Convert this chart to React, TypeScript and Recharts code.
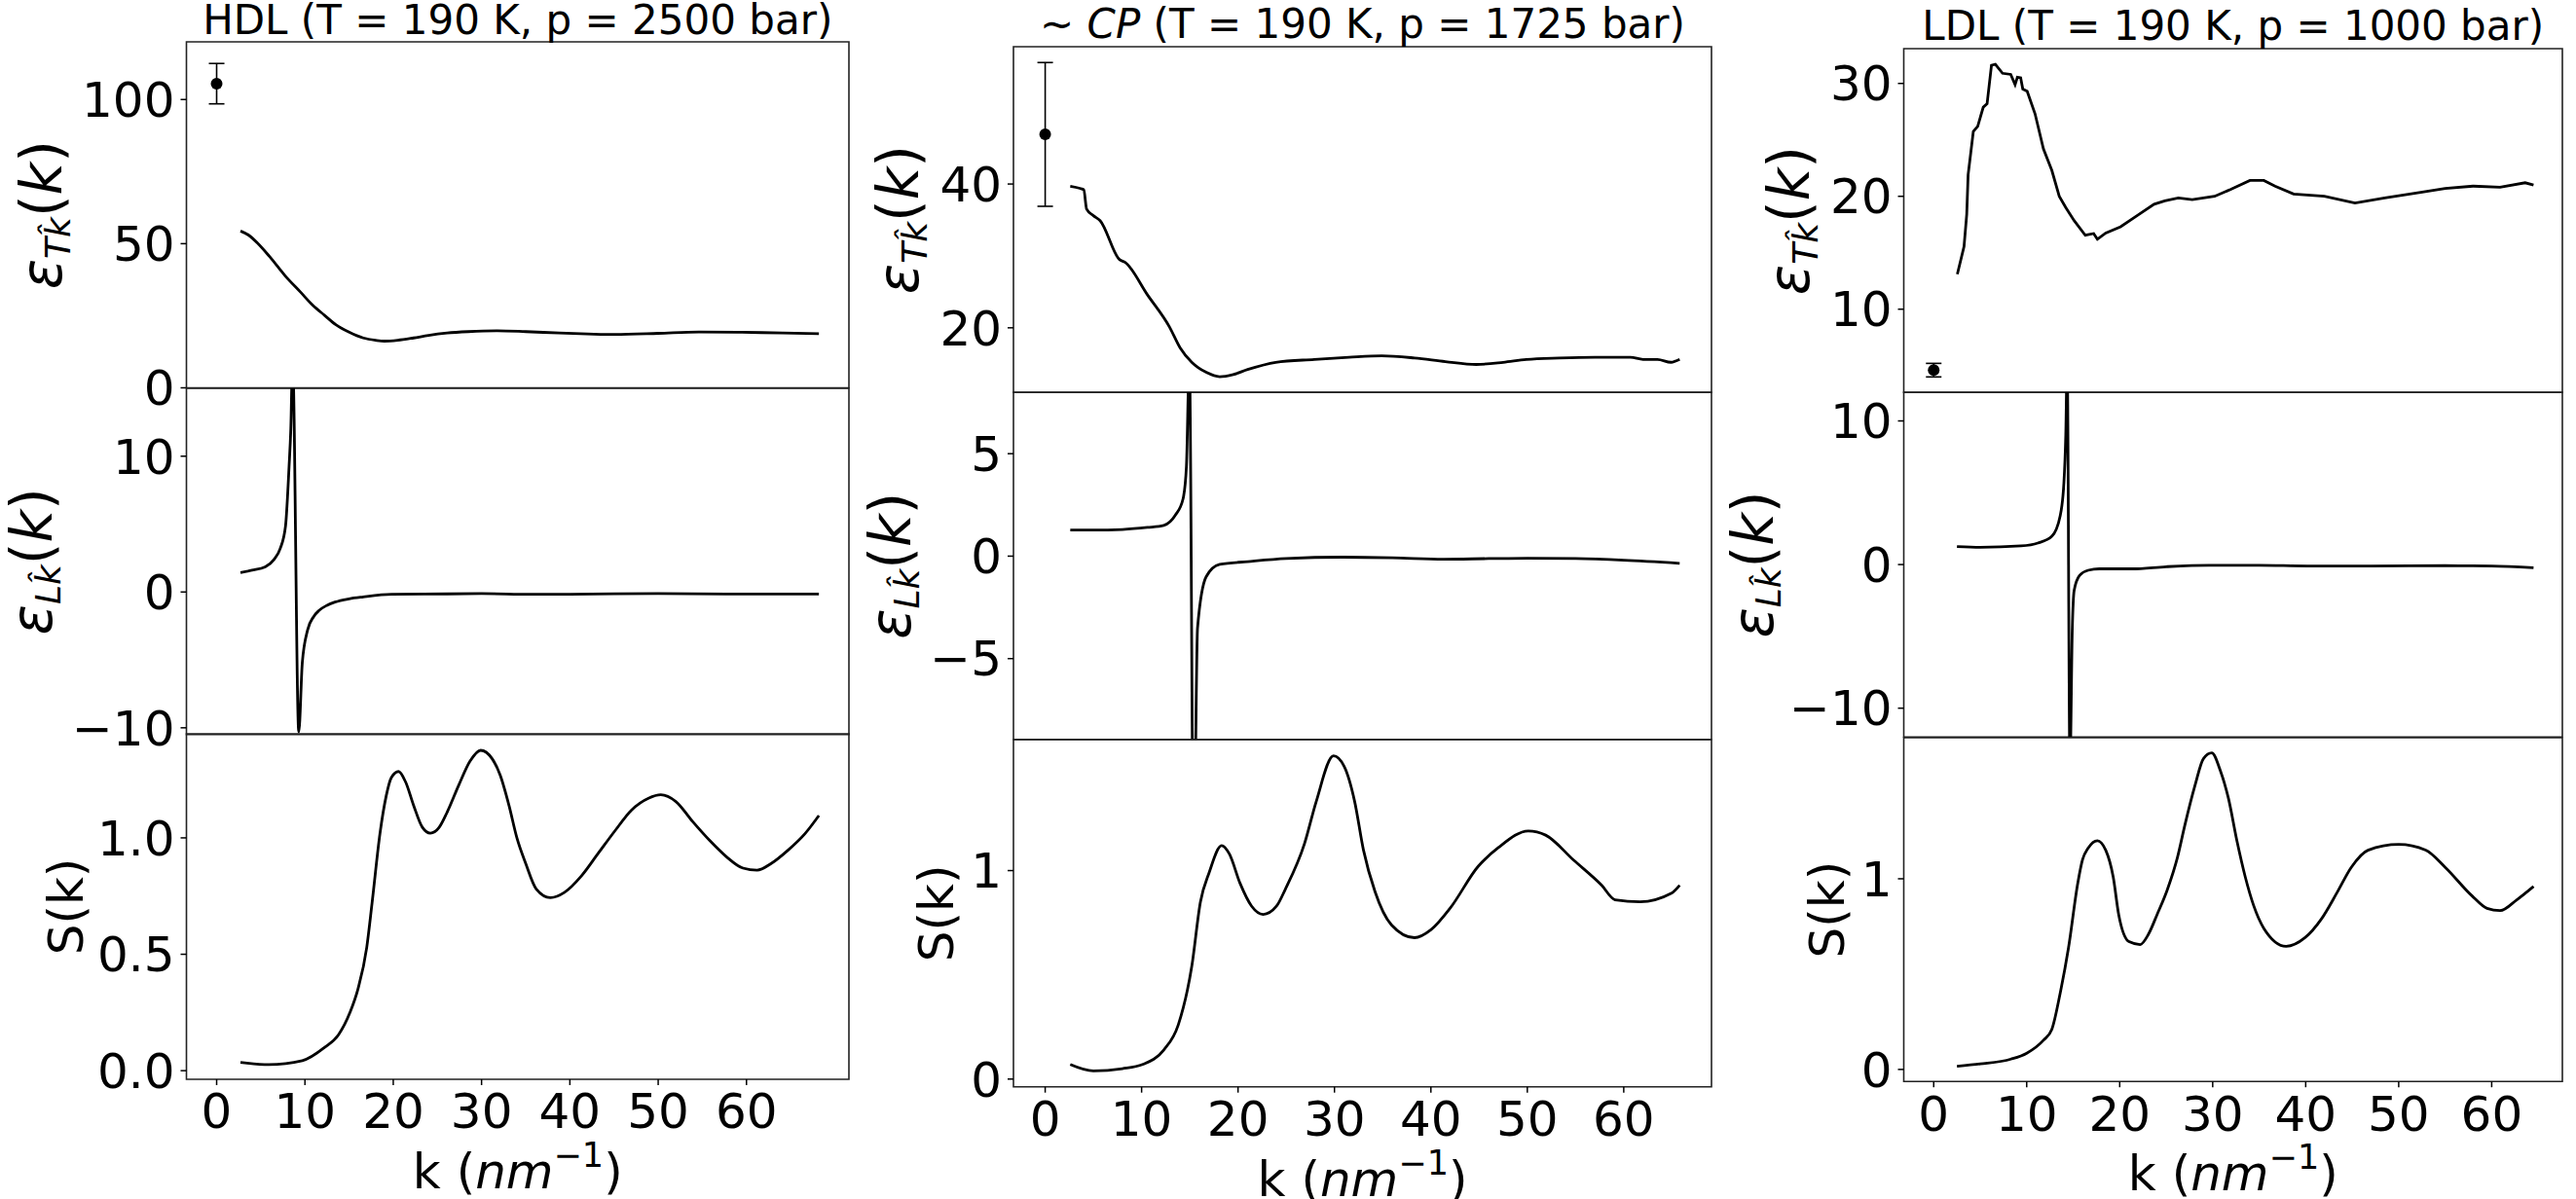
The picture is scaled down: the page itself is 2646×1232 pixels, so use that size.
import React from "react";
import { ComposedChart, Line, Scatter, ErrorBar, XAxis, YAxis, ReferenceArea } from "recharts";

const FONT = "DejaVu Sans, sans-serif";

// shared k ticks (nm^-1)
const K_TICKS = [0, 10, 20, 30, 40, 50, 60];

// ---- HDL (T = 190 K, p = 2500 bar)
const HDL_T_K = [2.7, 3.6, 4.6, 6.0, 7.8, 9.5, 10.9, 12.2, 13.5, 15.0, 16.6, 18.0, 19.0, 20.5, 22.3, 24.0, 26.1, 28.5, 31.8, 35.0, 38.8, 42.0, 45.1, 50.0, 54.6, 59.0, 64.1, 68.2];
const HDL_T = [54.4, 53.0, 50.3, 45.5, 38.7, 33.2, 28.6, 25.2, 21.9, 19.3, 17.3, 16.5, 16.2, 16.5, 17.3, 18.2, 19.0, 19.5, 19.8, 19.5, 19.0, 18.7, 18.5, 18.9, 19.4, 19.3, 19.0, 18.8];
const HDL_L_K = [2.7, 4.0, 5.5, 6.5, 7.2, 7.8, 8.2, 8.4, 8.6, 9.3, 9.7, 10.3, 11.0, 11.6, 12.5, 13.4, 15.0, 16.6, 19.8, 26.1, 30.0, 35.6, 40.0, 45.0, 50.0, 57.7, 68.2];
const HDL_L = [1.43, 1.6, 1.85, 2.4, 3.2, 4.85, 9.2, 12.0, 17.0, -10.3, -5.2, -2.8, -1.8, -1.36, -0.98, -0.74, -0.5, -0.36, -0.17, -0.14, -0.12, -0.17, -0.16, -0.13, -0.12, -0.15, -0.15];
const HDL_S_K = [2.7, 5.9, 9.7, 12.2, 13.8, 15.1, 16.0, 17.0, 17.6, 18.5, 19.2, 19.8, 20.6, 21.4, 22.3, 23.3, 24.2, 25.2, 26.1, 27.4, 28.7, 29.9, 31.2, 32.1, 33.1, 34.0, 35.0, 36.2, 37.8, 39.4, 41.3, 43.2, 45.1, 47.0, 48.9, 50.3, 52.0, 53.9, 55.8, 57.7, 59.6, 61.2, 62.8, 64.7, 66.6, 68.2];
const HDL_S = [0.036, 0.026, 0.043, 0.099, 0.154, 0.25, 0.35, 0.53, 0.72, 1.02, 1.18, 1.26, 1.285, 1.24, 1.14, 1.045, 1.02, 1.045, 1.11, 1.225, 1.33, 1.376, 1.34, 1.27, 1.14, 1.0, 0.89, 0.78, 0.743, 0.766, 0.836, 0.933, 1.03, 1.12, 1.17, 1.185, 1.156, 1.07, 0.99, 0.92, 0.87, 0.861, 0.89, 0.947, 1.017, 1.096];
const HDL_POINT = { k: 0, v: 105.5, err: 7 };

// ---- ~CP (T = 190 K, p = 1725 bar)
const CP_T_K = [2.6, 3.6, 4.0, 4.3, 5.0, 5.7, 7.7, 8.3, 10.6, 12.9, 14.0, 15.2, 16.7, 18.1, 19.5, 21.0, 23.9, 27.9, 31.5, 34.9, 38.3, 41.5, 44.7, 47.5, 49.9, 53.3, 57.0, 60.7, 62.0, 63.5, 64.9, 65.8];
const CP_T = [39.7, 39.4, 39.2, 36.5, 35.6, 34.9, 29.5, 29.1, 24.6, 20.1, 17.2, 15.2, 13.8, 13.2, 13.5, 14.2, 15.2, 15.6, 15.9, 16.1, 15.8, 15.3, 14.9, 15.2, 15.6, 15.8, 15.9, 15.9, 15.6, 15.6, 15.2, 15.6];
const CP_L_K = [2.6, 5.0, 8.0, 10.6, 12.3, 13.5, 14.3, 14.65, 14.95, 15.4, 15.8, 16.7, 18.1, 21.0, 25.0, 30.9, 36.0, 41.3, 46.0, 50.0, 55.0, 60.0, 65.8];
const CP_L = [1.27, 1.27, 1.3, 1.4, 1.5, 2.0, 2.8, 4.4, 9.5, -15.0, -3.5, -1.0, -0.4, -0.27, -0.12, -0.05, -0.08, -0.15, -0.12, -0.1, -0.12, -0.2, -0.35];
const CP_S_K = [2.6, 5.0, 8.0, 10.1, 12.3, 13.8, 15.2, 16.1, 17.0, 18.3, 19.1, 20.2, 21.4, 22.6, 24.0, 24.9, 26.9, 28.1, 29.9, 31.0, 32.1, 33.0, 34.2, 35.9, 38.3, 40.0, 42.0, 44.9, 47.0, 50.1, 51.9, 54.8, 57.7, 59.1, 61.7, 64.9, 65.8];
const CP_S = [0.07, 0.039, 0.05, 0.07, 0.14, 0.26, 0.54, 0.85, 0.99, 1.12, 1.08, 0.94, 0.83, 0.79, 0.83, 0.91, 1.13, 1.33, 1.55, 1.5, 1.33, 1.1, 0.9, 0.74, 0.678, 0.716, 0.82, 1.02, 1.11, 1.19, 1.17, 1.05, 0.93, 0.86, 0.85, 0.89, 0.93];
const CP_POINT = { k: 0, v: 46.9, err: 10 };

// ---- LDL (T = 190 K, p = 1000 bar)
const LDL_T_K = [2.54, 3.26, 3.55, 3.7, 4.26, 4.73, 5.33, 5.74, 6.21, 6.63, 7.4, 8.28, 8.75, 9.0, 9.35, 9.58, 10.05, 10.9, 11.8, 12.7, 13.5, 14.2, 15.1, 16.3, 17.2, 17.6, 18.5, 20.1, 21.9, 23.7, 24.85, 26.3, 27.8, 30.2, 31.9, 34.0, 35.5, 36.7, 38.7, 42.0, 45.3, 48.5, 52.7, 55.0, 58.0, 60.9, 63.6, 64.5];
const LDL_T = [13.1, 15.55, 18.4, 21.9, 25.75, 26.2, 27.9, 28.2, 31.6, 31.7, 30.9, 30.8, 29.9, 30.55, 30.5, 29.5, 29.3, 27.3, 24.2, 22.3, 20.0, 19.0, 17.85, 16.55, 16.7, 16.2, 16.75, 17.3, 18.3, 19.3, 19.6, 19.85, 19.7, 20.0, 20.6, 21.4, 21.4, 20.9, 20.2, 20.0, 19.4, 19.85, 20.4, 20.7, 20.9, 20.8, 21.2, 21.0];
const LDL_L_K = [2.5, 5.0, 9.4, 11.2, 12.7, 13.6, 14.0, 14.2, 14.35, 14.65, 14.9, 15.1, 15.7, 16.6, 17.8, 21.3, 25.0, 29.6, 35.0, 40.2, 47.0, 55.0, 60.0, 64.5];
const LDL_L = [1.25, 1.2, 1.3, 1.5, 1.97, 3.4, 5.7, 9.0, 14.0, -14.0, -4.5, -1.8, -0.75, -0.4, -0.3, -0.3, -0.15, -0.05, -0.05, -0.1, -0.1, -0.08, -0.1, -0.22];
const LDL_S_K = [2.5, 5.0, 8.3, 10.0, 11.8, 12.7, 13.6, 14.5, 15.5, 16.0, 16.6, 17.6, 18.5, 19.3, 19.9, 21.0, 22.2, 23.1, 24.0, 25.1, 26.2, 27.0, 28.1, 29.0, 29.9, 30.8, 31.7, 32.6, 33.5, 34.4, 35.5, 37.9, 39.9, 41.7, 43.4, 44.9, 46.7, 50.0, 52.9, 55.0, 57.9, 59.5, 60.9, 62.7, 64.5];
const LDL_S = [0.017, 0.029, 0.054, 0.085, 0.153, 0.21, 0.4, 0.64, 0.98, 1.1, 1.16, 1.2, 1.15, 1.01, 0.81, 0.67, 0.655, 0.71, 0.81, 0.94, 1.11, 1.28, 1.49, 1.63, 1.66, 1.57, 1.42, 1.2, 1.01, 0.86, 0.74, 0.646, 0.69, 0.79, 0.93, 1.06, 1.15, 1.18, 1.15, 1.06, 0.91, 0.845, 0.833, 0.89, 0.96];
const LDL_POINT = { k: 0, v: 4.6, err: 0.6 };

const zip = (ks: number[], vs: number[]) => ks.map((k, i) => ({ k, v: vs[i] }));
const minus = (s: string) => s.replace("-", "\u2212");

type Box = { left: number; top: number; right: number; bottom: number };

interface PanelProps {
  outer: Box;
  plot: Box;
  xDomain: [number, number];
  yDomain: [number, number];
  yTicks: number[];
  digits?: number;
  series: { k: number; v: number }[];
  curve?: "monotone" | "linear";
  point?: { k: number; v: number; err: number };
  showX?: boolean;
  title?: React.ReactNode;
  ylab: "T" | "L" | "S";
  ylabX: number;
}

function PanelText(props: any) {
  const { x0, y0, w, h, title, ylab, ylabX, xlab } = props;
  const cx = x0 + w / 2;
  const cy = y0 + h / 2;
  const lx = x0 + ylabX;
  return (
    <g>
      {title && (
        <text x={cx} y={y0 - 8.5} textAnchor="middle" fontSize={42} fontFamily={FONT} fill="#000">
          {title}
        </text>
      )}
      {ylab === "S" ? (
        <text x={lx} y={cy} transform={`rotate(-90 ${lx} ${cy})`} textAnchor="middle" fontSize={50} fontFamily={FONT} fill="#000">
          S(k)
        </text>
      ) : (
        <text x={lx} y={cy} transform={`rotate(-90 ${lx} ${cy})`} textAnchor="middle" fontSize={58} fontFamily={FONT} fill="#000">
          <tspan fontStyle="italic">ε</tspan>
          <tspan fontStyle="italic" fontSize={36} dy={9}>{ylab + "k\u0302"}</tspan>
          <tspan dy={-9}>(</tspan>
          <tspan fontStyle="italic">k</tspan>
          <tspan>)</tspan>
        </text>
      )}
      {xlab && (
        <text x={cx} y={y0 + h + 112} textAnchor="middle" fontSize={50} fontFamily={FONT} fill="#000">
          <tspan>{"k ("}</tspan>
          <tspan fontStyle="italic">nm</tspan>
          <tspan fontSize={35} dy={-22}>{"\u22121"}</tspan>
          <tspan dy={22}>)</tspan>
        </text>
      )}
    </g>
  );
}

function Panel(p: PanelProps) {
  const width = p.outer.right - p.outer.left;
  const height = p.outer.bottom - p.outer.top;
  const yW = p.plot.left - p.outer.left;
  const xH = p.showX ? p.outer.bottom - p.plot.bottom : 0;
  const margin = {
    top: p.plot.top - p.outer.top,
    right: p.outer.right - p.plot.right,
    left: 0,
    bottom: p.outer.bottom - p.plot.bottom - xH,
  };
  const tickStyle = { fill: "#000", fontSize: 50, fontFamily: FONT };
  const fmt = (v: number) => minus(p.digits ? v.toFixed(p.digits) : String(v));
  return (
    <div style={{ position: "absolute", left: p.outer.left, top: p.outer.top, width, height }}>
      <ComposedChart width={width} height={height} margin={margin} style={{ overflow: "visible" }}>
        <XAxis
          type="number"
          dataKey="k"
          domain={p.xDomain}
          allowDataOverflow
          ticks={K_TICKS}
          interval={0}
          hide={!p.showX}
          height={xH || 1}
          axisLine={false}
          stroke="#000"
          tickSize={6}
          tickMargin={9}
          tickLine={{ stroke: "#000", strokeWidth: 1.5 }}
          tick={tickStyle}
        />
        <YAxis
          type="number"
          domain={p.yDomain}
          allowDataOverflow
          ticks={p.yTicks}
          interval={0}
          width={yW}
          axisLine={false}
          stroke="#000"
          tickSize={6}
          tickMargin={6}
          tickLine={{ stroke: "#000", strokeWidth: 1.5 }}
          tick={tickStyle}
          tickFormatter={fmt}
        />
        <ReferenceArea
          x1={p.xDomain[0]}
          x2={p.xDomain[1]}
          y1={p.yDomain[0]}
          y2={p.yDomain[1]}
          fill="none"
          fillOpacity={0}
          stroke="#222"
          strokeWidth={1.6}
          ifOverflow="visible"
          label={
            <PanelText
              x0={yW}
              y0={margin.top}
              w={p.plot.right - p.plot.left}
              h={p.plot.bottom - p.plot.top}
              title={p.title}
              ylab={p.ylab}
              ylabX={p.ylabX}
              xlab={p.showX}
            />
          }
        />
        <Line
          data={p.series}
          dataKey="v"
          type={p.curve || "monotone"}
          stroke="#000"
          strokeWidth={2.8}
          dot={false}
          activeDot={false}
          isAnimationActive={false}
        />
        {p.point && (
          <Scatter
            data={[p.point]}
            dataKey="v"
            isAnimationActive={false}
            shape={(s: any) => <circle cx={s.cx} cy={s.cy} r={6} fill="#000" />}
          >
            <ErrorBar dataKey="err" direction="y" width={8} stroke="#000" strokeWidth={1.6} isAnimationActive={false} />
          </Scatter>
        )}
      </ComposedChart>
    </div>
  );
}

// layout of the three columns (page pixels)
const HDL_X = { left: 191.5, right: 872 };
const HDL_ROWS = [43, 398.5, 754.3, 1109.3];
const CP_X = { left: 1041, right: 1758 };
const CP_ROWS = [48, 403.3, 760, 1116.7];
const LDL_X = { left: 1955.5, right: 2632 };
const LDL_ROWS = [50, 403.3, 757.5, 1110.7];
const PAD = 40; // room for tick labels sitting on a panel edge

function Column(c: {
  x0: number;
  x1: number;
  px: { left: number; right: number };
  rows: number[];
  xDomain: [number, number];
  title: React.ReactNode;
  t: { k: number; v: number }[];
  l: { k: number; v: number }[];
  s: { k: number; v: number }[];
  tCurve?: "monotone" | "linear";
  point: { k: number; v: number; err: number };
  yT: [number, number];
  yTTicks: number[];
  yL: [number, number];
  yLTicks: number[];
  yS: [number, number];
  ySTicks: number[];
  sDigits?: number;
  labX: [number, number, number];
}) {
  const box = (i: number): Box => ({ left: c.px.left, right: c.px.right, top: c.rows[i], bottom: c.rows[i + 1] });
  return (
    <>
      <Panel
        outer={{ left: c.x0, right: c.x1, top: 0, bottom: c.rows[1] + PAD }}
        plot={box(0)}
        xDomain={c.xDomain}
        yDomain={c.yT}
        yTicks={c.yTTicks}
        series={c.t}
        curve={c.tCurve}
        point={c.point}
        title={c.title}
        ylab="T"
        ylabX={c.labX[0]}
      />
      <Panel
        outer={{ left: c.x0, right: c.x1, top: c.rows[1] - PAD, bottom: c.rows[2] + PAD }}
        plot={box(1)}
        xDomain={c.xDomain}
        yDomain={c.yL}
        yTicks={c.yLTicks}
        series={c.l}
        ylab="L"
        ylabX={c.labX[1]}
      />
      <Panel
        outer={{ left: c.x0, right: c.x1, top: c.rows[2] - PAD, bottom: 1232 }}
        plot={box(2)}
        xDomain={c.xDomain}
        yDomain={c.yS}
        yTicks={c.ySTicks}
        digits={c.sDigits}
        series={c.s}
        showX
        ylab="S"
        ylabX={c.labX[2]}
      />
    </>
  );
}

export default function App() {
  return (
    <div style={{ position: "absolute", left: 0, top: 0, width: 2646, height: 1232, background: "#fff" }}>
      <Column
        x0={0}
        x1={880}
        px={HDL_X}
        rows={HDL_ROWS}
        xDomain={[-3.42, 71.6]}
        title="HDL (T = 190 K, p = 2500 bar)"
        t={zip(HDL_T_K, HDL_T)}
        l={zip(HDL_L_K, HDL_L)}
        s={zip(HDL_S_K, HDL_S)}
        point={HDL_POINT}
        yT={[0, 120]}
        yTTicks={[0, 50, 100]}
        yL={[-10.5, 15]}
        yLTicks={[-10, 0, 10]}
        yS={[-0.037, 1.447]}
        ySTicks={[0, 0.5, 1]}
        sDigits={1}
        labX={[-128.5, -138.5, -106]}
      />
      <Column
        x0={880}
        x1={1764}
        px={CP_X}
        rows={CP_ROWS}
        xDomain={[-3.29, 69.1]}
        title={
          <>
            <tspan>{"\u223C "}</tspan>
            <tspan fontStyle="italic">CP</tspan>
            <tspan>{" (T = 190 K, p = 1725 bar)"}</tspan>
          </>
        }
        t={zip(CP_T_K, CP_T)}
        l={zip(CP_L_K, CP_L)}
        s={zip(CP_S_K, CP_S)}
        point={CP_POINT}
        yT={[11.0, 59.1]}
        yTTicks={[20, 40]}
        yL={[-8.94, 8.0]}
        yLTicks={[-5, 0, 5]}
        yS={[-0.037, 1.628]}
        ySTicks={[0, 1]}
        labX={[-98, -106, -61.5]}
      />
      <Column
        x0={1764}
        x1={2646}
        px={LDL_X}
        rows={LDL_ROWS}
        xDomain={[-3.22, 67.6]}
        title="LDL (T = 190 K, p = 1000 bar)"
        t={zip(LDL_T_K, LDL_T)}
        tCurve="linear"
        l={zip(LDL_L_K, LDL_L)}
        s={zip(LDL_S_K, LDL_S)}
        point={LDL_POINT}
        yT={[2.62, 33.08]}
        yTTicks={[10, 20, 30]}
        yL={[-12, 12]}
        yLTicks={[-10, 0, 10]}
        yS={[-0.063, 1.74]}
        ySTicks={[0, 1]}
        labX={[-97.5, -135, -61]}
      />
    </div>
  );
}
